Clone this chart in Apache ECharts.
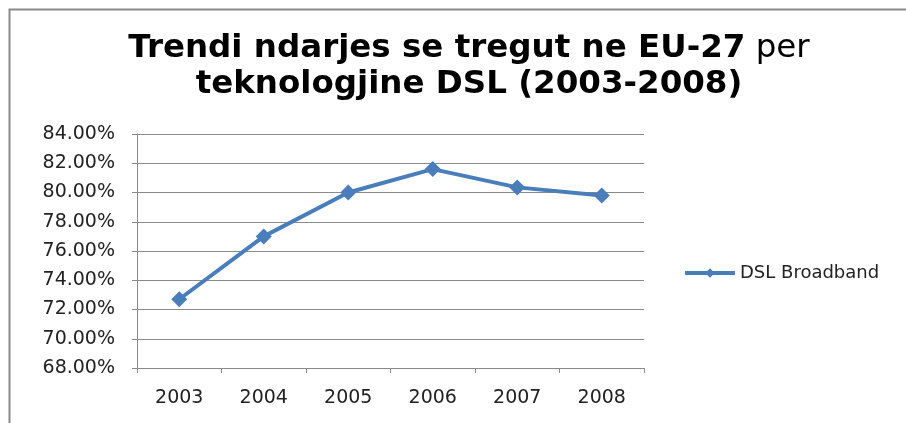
<!DOCTYPE html>
<html>
<head>
<meta charset="utf-8">
<script src="https://cdn.jsdelivr.net/npm/echarts@6/dist/echarts.min.js"></script>
<style>
  html, body { margin: 0; padding: 0; background: #fff; }
  #chart { width: 906px; height: 423px; }
</style>
</head>
<body>
<div id="chart"></div>
<script>
// te dhenat
var years = ['2003', '2004', '2005', '2006', '2007', '2008'];
var dslShare = [72.7, 77.0, 80.0, 81.6, 80.35, 79.8];
var seriesName = 'DSL Broadband';

var myChart = echarts.init(document.getElementById('chart'));

var labelFont = 'DejaVu Sans';

var option = {
    backgroundColor: '#fff',
    animation: false,
    title: {
        text: '{b|Trendi ndarjes se tregut ne EU-27}{r| per}\n{b|teknologjine DSL (2003-2008)}',
        left: 464,
        top: 26,
        textAlign: 'center',
        textStyle: {
            rich: {
                b: { fontFamily: labelFont, fontWeight: 'bold', fontSize: 32.5, lineHeight: 36, color: '#000' },
                r: { fontFamily: labelFont, fontWeight: 'normal', fontSize: 32.5, lineHeight: 36, color: '#000' }
            }
        }
    },
    graphic: [{
        type: 'rect',
        shape: { x: 9.5, y: 9.5, width: 1000, height: 1000 },
        style: { fill: 'none', stroke: '#8a8a8a', lineWidth: 2 },
        silent: true
    }],
    legend: {
        data: [seriesName],
        orient: 'vertical',
        left: 683,
        top: 264,
        padding: 0,
        itemWidth: 50,
        itemHeight: 12,
        lineStyle: { width: 4 },
        textStyle: { fontFamily: labelFont, fontSize: 18, color: '#222' }
    },
    grid: { left: 137, right: 262, top: 134, bottom: 55, containLabel: false },
    xAxis: {
        type: 'category',
        data: years,
        boundaryGap: true,
        axisLine: { lineStyle: { color: '#8a8a8a', width: 1 } },
        axisTick: { show: true, length: 5, lineStyle: { color: '#8a8a8a' } },
        axisLabel: { fontFamily: labelFont, fontSize: 19, color: '#222', margin: 21 }
    },
    yAxis: {
        type: 'value',
        min: 68,
        max: 84,
        interval: 2,
        axisLine: { show: true, lineStyle: { color: '#8a8a8a', width: 1 } },
        axisTick: { show: true, length: 5, lineStyle: { color: '#8a8a8a' } },
        splitLine: { lineStyle: { color: '#8a8a8a', width: 1 } },
        axisLabel: {
            fontFamily: labelFont, fontSize: 19, color: '#222', margin: 22,
            formatter: function (v) { return v.toFixed(2) + '%'; }
        }
    },
    series: [{
        name: seriesName,
        type: 'line',
        data: dslShare,
        symbol: 'diamond',
        symbolSize: 16,
        lineStyle: { color: '#4a7ebb', width: 4 },
        itemStyle: { color: '#4a7ebb' }
    }]
};

myChart.setOption(option);

window.addEventListener('resize', function () {
    myChart.resize();
});
</script>
</body>
</html>
